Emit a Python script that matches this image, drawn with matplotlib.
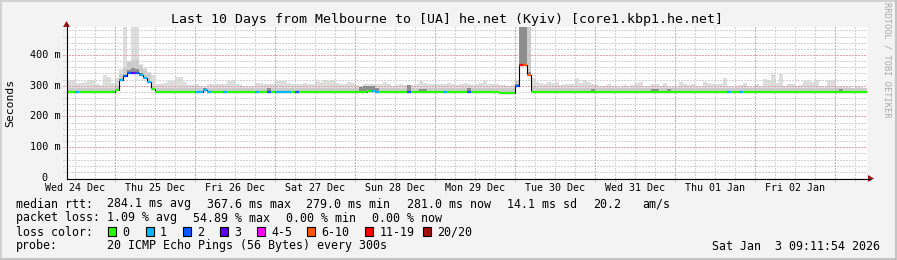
import numpy as np
import matplotlib
matplotlib.use('Agg')
import matplotlib.pyplot as plt
from matplotlib.patches import Rectangle, Polygon
from matplotlib.lines import Line2D
import matplotlib.transforms as mtrans

MONO = 'DejaVu Sans Mono'
plt.rcParams['font.family'] = [MONO, 'DejaVu Sans']

# ---------------- data ----------------
title = 'Last 10 Days from Melbourne to [UA] he.net (Kyiv) [core1.kbp1.he.net]'
day_labels = ['Wed 24 Dec', 'Thu 25 Dec', 'Fri 26 Dec', 'Sat 27 Dec', 'Sun 28 Dec',
              'Mon 29 Dec', 'Tue 30 Dec', 'Wed 31 Dec', 'Thu 01 Jan', 'Fri 02 Jan']
y_ticks = [0, 100, 200, 300, 400]
y_tick_labels = ['0', '100 m', '200 m', '300 m', '400 m']

t_start = 0.4      # days after Wed 24 Dec 00:00
bin_days = 0.05    # width of one consolidated step

# median rtt per step (ms)
median = [
    280, 280, 280, 280, 280, 280, 280, 280, 280, 280, 280, 280, 286, 318, 331, 340, 343, 342, 334, 326,
    312, 289, 280, 280, 280, 280, 280, 280, 280, 280, 280, 280, 280, 280, 285, 280, 280, 280, 280, 280,
    280, 280, 280, 280, 280, 280, 280, 280, 280, 280, 280, 280, 280, 280, 280, 280, 280, 280, 280, 280,
    280, 280, 280, 280, 280, 280, 280, 280, 280, 280, 280, 280, 280, 280, 280, 284, 282, 280, 280, 280,
    280, 280, 280, 280, 280, 280, 280, 280, 280, 280, 280, 280, 280, 280, 280, 280, 280, 280, 280, 280,
    280, 280, 280, 280, 280, 280, 280, 280, 277, 277, 277, 277, 300, 366, 366, 334, 280, 280, 280, 280,
    280, 280, 280, 280, 280, 280, 280, 280, 280, 280, 280, 280, 280, 280, 280, 280, 280, 280, 280, 280,
    280, 280, 280, 280, 280, 280, 280, 280, 280, 280, 280, 280, 280, 280, 280, 280, 280, 280, 280, 280,
    280, 280, 280, 280, 280, 280, 280, 280, 280, 280, 280, 280, 280, 280, 280, 280, 280, 280, 280, 280,
    280, 280, 280, 280, 280, 280, 280, 280, 280, 280, 280, 280, 280, 280, 280, 280, 280, 280, 280, 280,
]

# lost pings (of 20) per step
loss = [
    0, 0, 1, 0, 0, 0, 0, 0, 0, 0, 0, 0, 0, 1, 2, 2, 3, 2, 1, 1,
    1, 0, 0, 0, 0, 0, 0, 0, 0, 0, 0, 0, 1, 1, 1, 1, 0, 0, 0, 1,
    0, 0, 0, 0, 0, 0, 0, 1, 0, 0, 2, 0, 1, 1, 1, 1, 0, 2, 0, 0,
    0, 0, 0, 0, 0, 0, 0, 0, 0, 0, 0, 0, 0, 0, 0, 0, 1, 1, 0, 0,
    0, 0, 0, 0, 0, 2, 0, 0, 0, 0, 0, 0, 0, 0, 1, 0, 0, 0, 0, 0,
    2, 0, 0, 0, 0, 0, 0, 0, 0, 0, 0, 0, 2, 11, 8, 7, 0, 0, 0, 0,
    0, 0, 0, 0, 0, 0, 0, 0, 0, 0, 0, 0, 0, 0, 0, 0, 0, 0, 0, 0,
    0, 0, 0, 0, 0, 0, 0, 0, 0, 0, 0, 0, 0, 0, 0, 0, 0, 0, 0, 0,
    0, 0, 0, 0, 0, 1, 0, 0, 1, 0, 0, 0, 0, 0, 0, 0, 0, 0, 0, 0,
    0, 0, 0, 0, 0, 0, 0, 0, 0, 0, 0, 0, 0, 0, 0, 0, 0, 0, 0, 0,
]

# highest ping per step (ms) - outer smoke
smoke_max = [
    318, 318, 308, 308, 312, 318, 318, 306, 304, 334, 330, 310, 324, 356, 500, 375, 500, 500, 372, 358,
    345, 335, 305, 305, 310, 316, 316, 329, 327, 313, 302, 302, 307, 299, 296, 305, 307, 307, 305, 307,
    316, 318, 305, 302, 296, 296, 299, 310, 310, 305, 307, 307, 316, 316, 316, 310, 307, 307, 305, 310,
    305, 307, 316, 313, 318, 316, 318, 310, 307, 307, 313, 310, 302, 299, 305, 307, 305, 305, 307, 313,
    305, 299, 302, 305, 302, 302, 302, 305, 316, 310, 307, 305, 305, 307, 305, 310, 305, 302, 307, 310,
    307, 302, 305, 310, 316, 307, 305, 305, 302, 302, 299, 302, 318, 500, 500, 500, 324, 313, 310, 305,
    313, 310, 313, 302, 305, 307, 305, 324, 310, 318, 313, 305, 302, 299, 299, 305, 299, 296, 296, 302,
    296, 302, 310, 313, 296, 299, 305, 305, 299, 310, 299, 296, 296, 313, 305, 302, 305, 299, 296, 313,
    310, 305, 305, 305, 324, 299, 296, 299, 302, 310, 296, 296, 305, 296, 321, 318, 338, 310, 337, 299,
    305, 305, 299, 302, 316, 316, 313, 318, 299, 296, 318, 318, 299, 299, 296, 296, 294, 296, 296, 294,
]

# 90th-percentile ping per step (ms) - middle smoke
smoke_q90 = [
    292, 292, 292, 292, 292, 292, 292, 292, 292, 292, 292, 292, 300, 338, 360, 380, 385, 383, 365, 352,
    340, 300, 292, 292, 292, 292, 292, 292, 292, 292, 292, 292, 292, 292, 292, 292, 292, 292, 292, 292,
    292, 292, 292, 292, 292, 292, 292, 292, 292, 292, 292, 292, 292, 292, 292, 292, 292, 292, 292, 292,
    292, 292, 292, 292, 292, 292, 292, 292, 292, 292, 292, 292, 292, 292, 292, 292, 292, 292, 292, 292,
    292, 292, 292, 292, 292, 292, 292, 292, 292, 292, 292, 292, 292, 292, 292, 292, 292, 292, 292, 292,
    292, 292, 292, 292, 292, 292, 292, 292, 292, 292, 292, 292, 318, 500, 500, 500, 300, 292, 292, 292,
    292, 292, 292, 292, 292, 292, 292, 292, 292, 292, 292, 292, 292, 292, 292, 292, 292, 292, 292, 292,
    292, 292, 292, 292, 292, 292, 292, 292, 292, 292, 292, 292, 292, 292, 292, 292, 292, 292, 292, 292,
    292, 292, 292, 292, 292, 292, 292, 292, 292, 292, 292, 292, 292, 292, 292, 292, 292, 292, 292, 292,
    292, 292, 292, 292, 292, 292, 292, 292, 292, 292, 292, 292, 292, 292, 292, 292, 292, 292, 292, 292,
]

# 75th-percentile ping per step (ms) - dense smoke
smoke_q75 = [
    280, 280, 280, 280, 280, 280, 280, 280, 280, 280, 280, 280, 286, 318, 331, 352, 358, 356, 340, 326,
    312, 289, 280, 280, 280, 280, 280, 280, 280, 280, 280, 280, 280, 280, 292, 280, 280, 280, 280, 280,
    280, 280, 280, 280, 280, 280, 280, 280, 280, 280, 293, 280, 280, 280, 280, 280, 280, 280, 280, 280,
    280, 280, 280, 280, 280, 280, 280, 280, 280, 280, 280, 280, 280, 296, 300, 300, 298, 292, 280, 280,
    280, 280, 280, 280, 280, 302, 280, 280, 290, 290, 280, 280, 280, 280, 280, 280, 280, 280, 280, 280,
    293, 280, 280, 280, 280, 280, 280, 280, 277, 277, 277, 277, 305, 500, 500, 345, 280, 280, 280, 280,
    280, 280, 280, 280, 280, 280, 280, 280, 280, 280, 280, 291, 280, 280, 280, 280, 280, 280, 280, 280,
    280, 280, 280, 280, 280, 280, 291, 291, 280, 280, 290, 280, 280, 280, 280, 280, 280, 280, 280, 280,
    280, 280, 280, 280, 280, 280, 280, 280, 280, 280, 280, 280, 280, 280, 280, 280, 280, 280, 280, 280,
    280, 280, 280, 280, 280, 280, 280, 280, 280, 280, 280, 280, 280, 290, 280, 280, 280, 280, 280, 280,
]

loss_labels = ['0', '1', '2', '3', '4-5', '6-10', '11-19', '20/20']
loss_upper = [0, 1, 2, 3, 5, 10, 19, 20]
loss_colors = ['#26ff00', '#00b8ff', '#0059ff', '#5e00ff', '#ff00ff', '#ff5500', '#ff0000', '#a01010']

rtt_avg, rtt_max, rtt_min, rtt_now, rtt_sd, rtt_ams = 284.1, 367.6, 279.0, 281.0, 14.1, 20.2
pl_avg, pl_max, pl_min, pl_now = 1.09, 54.89, 0.00, 0.00
probe_text = '20 ICMP Echo Pings (56 Bytes) every 300s'
stamp = 'Sat Jan  3 09:11:54 2026'

# ---------------- figure ----------------
W, H = 897, 260
fig = plt.figure(figsize=(W / 100, H / 100), dpi=100)
fig.patch.set_facecolor('#f3f3f3')


def fx(x):
    return x / W


def fy(y):
    return 1 - y / H


X0, X1, Y0, Y1 = 67, 867, 178, 27
YMAX = 491
ax = fig.add_axes([fx(X0), fy(Y0), (X1 - X0) / W, (Y0 - Y1) / H])
ax.set_facecolor('white')
for s in ax.spines.values():
    s.set_visible(False)
ax.set_xticks([])
ax.set_yticks([])

n = len(median)
t0 = t_start + bin_days * np.arange(n)
t_end = t_start + bin_days * n
ax.set_xlim(t_start, t_end)
ax.set_ylim(0, YMAX)

med = np.array(median, float)
for top, col, z in [(smoke_max, '#dddddd', 1), (smoke_q90, '#cbcbcb', 1.1),
                    (smoke_q75, '#8e8e8e', 2.5)]:
    top = np.array(top, float)
    h = np.clip(top - med, 0, None)
    ax.bar(t0, h, bottom=med, width=bin_days, align='edge', color=col,
           linewidth=0, antialiased=False, zorder=z)

# grid
px_day = (X1 - X0) / (t_end - t_start)
px_ms = (Y0 - Y1) / YMAX
ext_x = 4 / px_day
ext_y = 3 / px_ms
dot = (0, (1, 1))
for v in np.arange(20, YMAX, 20):
    major = (v % 100 == 0)
    ax.plot([t_start - ext_x, t_end], [v, v], ls=dot, lw=0.75,
            color='#e6a3a3' if major else '#d2d2d2', zorder=2 + major * 0.1,
            clip_on=False, antialiased=False)
for v in np.arange(0.5, t_end, 0.25):
    major = abs(v - round(v)) < 1e-9
    ax.plot([v, v], [-ext_y, YMAX], ls=dot, lw=0.75,
            color='#e6a3a3' if major else '#d2d2d2', zorder=2 + major * 0.1,
            clip_on=False, antialiased=False)

# median line coloured by loss
edges = np.append(t0, t_end)
ax.step(edges, np.append(med, med[-1]), where='post', color='black', lw=0.8, zorder=3)


def loss_cat(c):
    for i, u in enumerate(loss_upper):
        if c <= u:
            return i
    return len(loss_upper) - 1


cols = [loss_colors[loss_cat(c)] for c in loss]
ax.hlines(med, t0, t0 + bin_days, colors=cols, lw=1.6, zorder=4)

# axes with arrows
fig.add_artist(Line2D([fx(66.5), fx(870)], [fy(178.5), fy(178.5)], color='black', lw=0.8))
fig.add_artist(Line2D([fx(66.5), fx(66.5)], [fy(178.5), fy(24)], color='black', lw=0.8))
fig.add_artist(Polygon([[fx(868), fy(175)], [fx(874), fy(178.5)], [fx(868), fy(182)]],
                       closed=True, color='#a11a1a', lw=0))
fig.add_artist(Polygon([[fx(63), fy(27)], [fx(66.5), fy(21)], [fx(70), fy(27)]],
                       closed=True, color='#a11a1a', lw=0))

# tick labels
tr_x = mtrans.blended_transform_factory(ax.transData, fig.transFigure)
for i, lab in enumerate(day_labels):
    ax.text(i + 0.5, fy(188), lab, transform=tr_x, ha='center', va='center',
            fontsize=7.2, family=MONO, clip_on=False)
tr_y = mtrans.blended_transform_factory(fig.transFigure, ax.transData)
for v, lab in zip(y_ticks, y_tick_labels):
    ax.text(fx(60.5) if v else fx(47.5), v, lab, transform=tr_y, ha='right', va='center',
            fontsize=7.3, family=MONO, clip_on=False)

fig.text(fx(10.5), fy(103), 'Seconds', rotation=90, ha='center', va='center',
         fontsize=8.2, family=MONO)
fig.text(fx(887), fy(60), 'RRDTOOL / TOBI OETIKER', rotation=270, ha='center', va='center',
         fontsize=6.2, family=MONO, color='#a8a8a8')
fig.text(fx(447), fy(19), title, ha='center', va='center', fontsize=9.5, family=MONO)

# legend block
LS = 8.4
fig.text(fx(16), fy(204), 'median rtt:', ha='left', va='center', fontsize=LS, family=MONO)
rtt_parts = [f'{rtt_avg:.1f} ms avg', f'{rtt_max:.1f} ms max', f'{rtt_min:.1f} ms min',
             f'{rtt_now:.1f} ms now', f'{rtt_sd:.1f} ms sd', f'{rtt_ams:.1f}', 'am/s']
for x, s in zip([107.3, 207.3, 306, 406.7, 507.3, 593.3, 642.7], rtt_parts):
    fig.text(fx(x), fy(204), s, ha='left', va='center', fontsize=LS, family=MONO)

fig.text(fx(16), fy(218), 'packet loss:', ha='left', va='center', fontsize=LS, family=MONO)
pl_parts = [f'{pl_avg:.2f} % avg', f'{pl_max:.2f} % max', f'{pl_min:.2f} % min', f'{pl_now:.2f} % now']
for x, s in zip([107.3, 193.3, 286, 372.3], pl_parts):
    fig.text(fx(x), fy(218), s, ha='left', va='center', fontsize=LS, family=MONO)

fig.text(fx(16), fy(232), 'loss color:', ha='left', va='center', fontsize=LS, family=MONO)
box_x = [108.3, 145.7, 182.7, 220, 256.7, 307.3, 365, 423.3]
for bx, lab, col in zip(box_x, loss_labels, loss_colors):
    fig.add_artist(Rectangle((fx(bx), fy(236)), 8 / W, 9 / H, facecolor=col,
                             edgecolor='black', lw=0.8))
    fig.text(fx(bx + 14.3), fy(232), lab, ha='left', va='center', fontsize=LS, family=MONO)

fig.text(fx(16), fy(246), 'probe:', ha='left', va='center', fontsize=LS, family=MONO)
fig.text(fx(107.3), fy(246), probe_text, ha='left', va='center', fontsize=LS, family=MONO)
fig.text(fx(880), fy(246), stamp, ha='right', va='center', fontsize=LS, family=MONO)

# image border
fig.add_artist(Line2D([0, 1], [fy(1), fy(1)], color='#d2d2d2', lw=1.5))
fig.add_artist(Line2D([fx(1), fx(1)], [0, 1], color='#d2d2d2', lw=1.5))
fig.add_artist(Line2D([0, 1], [fy(259), fy(259)], color='#c4c4c4', lw=1.5))
fig.add_artist(Line2D([fx(896), fx(896)], [0, 1], color='#c4c4c4', lw=1.5))

fig.savefig('out.png', dpi=100, facecolor=fig.get_facecolor())
